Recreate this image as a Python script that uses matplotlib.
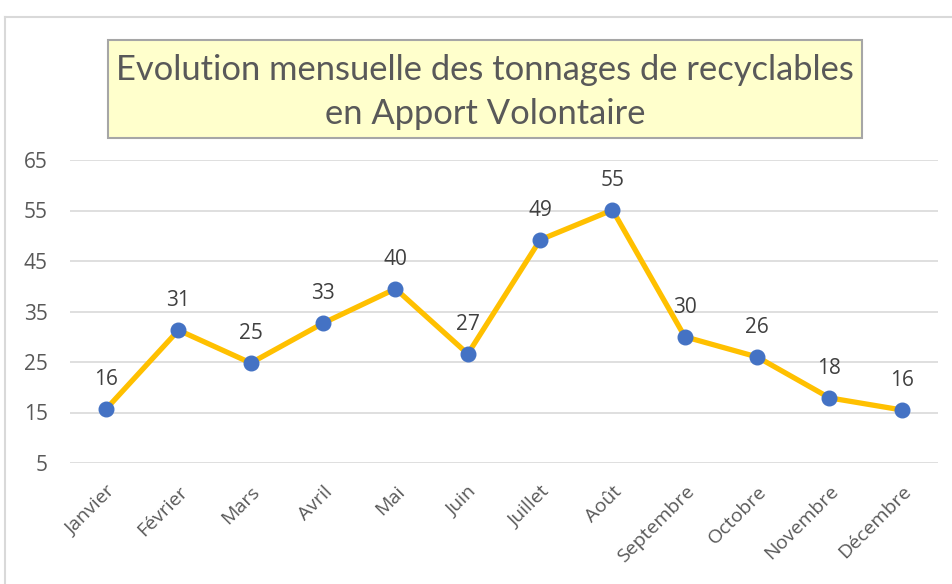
import matplotlib.pyplot as plt
from matplotlib.patches import Rectangle
from matplotlib.lines import Line2D

# data
mois = ['Janvier', 'Février', 'Mars', 'Avril', 'Mai', 'Juin',
        'Juillet', 'Août', 'Septembre', 'Octobre', 'Novembre', 'Décembre']
tonnages = [15.7, 31.3, 24.8, 32.7, 39.5, 26.6, 49.2, 55.1, 30.0, 26.0, 17.9, 15.5]
y_ticks = [5, 15, 25, 35, 45, 55, 65]

plt.rcParams['font.family'] = ['Open Sans', 'DejaVu Sans']
txt_color = '#595959'

fig = plt.figure(figsize=(9.53, 5.84), dpi=100)
ax = fig.add_axes([70 / 953, 1 - 463 / 584, 868 / 953, 303 / 584])

x = list(range(len(mois)))
ax.plot(x, tonnages, color='#FFC000', lw=3.8, marker='o', ms=10.5,
        mfc='#4472C4', mec='#4472C4', zorder=3)

for xi, v in zip(x, tonnages):
    ax.annotate(f'{v:.0f}', (xi, v), xytext=(0, 13.5), textcoords='offset points',
                ha='center', va='bottom', fontsize=15, color='#404040')

ax.set_xlim(-0.5, len(mois) - 0.5)
ax.set_ylim(5, 65)
ax.set_yticks(y_ticks)
ax.set_xticks(x)
ax.set_xticklabels(mois, rotation=45, ha='right', rotation_mode='anchor',
                   fontsize=14, color=txt_color)
ax.tick_params(axis='y', labelsize=15, labelcolor=txt_color, length=0, pad=16)
ax.tick_params(axis='x', length=0, pad=14)
ax.grid(axis='y', color='#D9D9D9', lw=1.2)
ax.set_axisbelow(True)
for s in ax.spines.values():
    s.set_visible(False)

# chart area border (only left/top visible)
fig.add_artist(Line2D([5 / 953, 5 / 953], [0, 1 - 17 / 584], color='#D9D9D9', lw=1.5))
fig.add_artist(Line2D([5 / 953, 1], [1 - 17 / 584, 1 - 17 / 584], color='#D9D9D9', lw=1.5))

# title box
fig.add_artist(Rectangle((108 / 953, 1 - 138 / 584), 754 / 953, 98 / 584,
                         transform=fig.transFigure, facecolor='#FFFFCC',
                         edgecolor='#A6A6A6', lw=1.5))
fig.text(485 / 953, 1 - 92 / 584, 'Evolution mensuelle des tonnages de recyclables\nen Apport Volontaire',
         ha='center', va='center', fontsize=24.8, color=txt_color, linespacing=1.45,
         family=['Lato', 'DejaVu Sans'])

fig.savefig('out.png', dpi=100)
